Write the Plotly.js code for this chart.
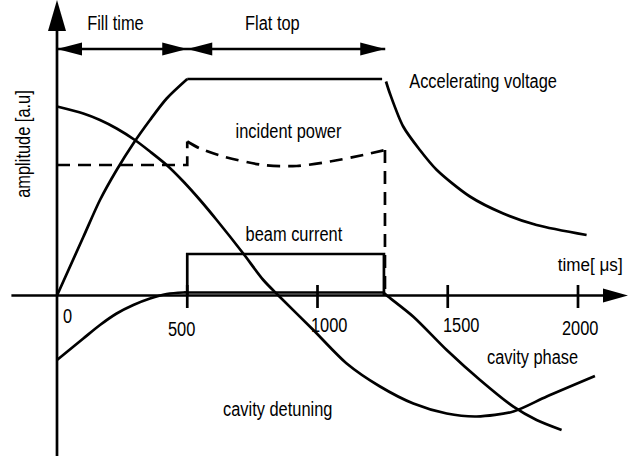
<!DOCTYPE html>
<html><head><meta charset="utf-8">
<script src="https://cdn.plot.ly/plotly-3.0.1.min.js"></script>
<style>html,body{margin:0;padding:0;background:#fff}</style>
</head><body><div id="chart" style="width:628px;height:456px"></div>
<script>
// ---------------- data (time in µs, amplitude in a.u.) ----------------
const phaseBounds = [0, 500, 1260];          // fill start, flat-top start, flat-top end

const accRiseT  = [0, 101, 165, 229, 293, 357, 421, 500];
const accRiseY  = [0, 0.585, 0.955, 1.255, 1.52, 1.755, 1.97, 2.165];
const accFlatT  = [500, 1248];
const accFlatY  = [2.165, 2.165];
const accDecayT = [1263, 1278, 1329, 1393, 1458, 1585, 1713, 1841, 2033];
const accDecayY = [2.14, 2.02, 1.69, 1.455, 1.255, 0.99, 0.82, 0.705, 0.605];

const incFillT  = [0, 500, 500];
const incFillY  = [1.305, 1.305, 1.54];
const incFlatT  = [500, 549, 638, 792, 920, 1048, 1176, 1259];
const incFlatY  = [1.54, 1.47, 1.39, 1.305, 1.295, 1.34, 1.405, 1.455];
const incDropT  = [1259, 1259];
const incDropY  = [1.455, 0];

const beamT = [500, 500, 1255, 1255];
const beamY = [0, 0.415, 0.415, 0];

const detT = [0, 101, 165, 229, 299, 357, 421, 485, 549, 613, 715, 792, 850, 984, 1112, 1240, 1368, 1496, 1611, 1752, 1880, 2065];
const detY = [1.89, 1.82, 1.755, 1.67, 1.555, 1.44, 1.305, 1.14, 0.955, 0.755, 0.42, 0.155, 0.0, -0.345, -0.68, -0.91, -1.08, -1.18, -1.21, -1.16, -1.01, -0.805];

const phFillT  = [0, 101, 165, 229, 293, 357, 421, 485, 500];
const phFillY  = [-0.645, -0.43, -0.295, -0.18, -0.095, -0.03, 0.015, 0.03, 0.03];
const phFlatT  = [500, 1255];
const phFlatY  = [0.03, 0.03];
const phDecayT = [1255, 1266, 1368, 1496, 1624, 1752, 1841, 1937];
const phDecayY = [0.025, 0, -0.212, -0.545, -0.845, -1.112, -1.245, -1.345];

const tickVals   = [500, 1000, 1500, 2000];
const tickLabels = ['0', '500', '1000', '1500', '2000'];

const seriesLabels = ['Accelerating voltage', 'incident power', 'beam current', 'cavity phase', 'cavity detuning'];
const phaseLabels  = ['Fill time', 'Flat top'];
const xTitle = 'time[ \u03bcs]';
const yTitle = 'amplitude [a.u]';

// ---------------- layout helpers (positions / styles) ----------------
const FONT = 'Liberation Sans Narrow, Arial Narrow, Liberation Sans, Arial, sans-serif';
const SQUEEZE = 0.82;        // condensed look of the original lettering
const X_TITLE_SQUEEZE = 0.95;
const LW = 2.7;
const xRange = [-57 / 0.2605, (628 - 57) / 0.2605];
const yRange = [-(456 - 295.5) / 100, 295.5 / 100];
const xAxisT = [-175, 2100];
const yAxisY = [yRange[0], 2.7];
const arrowY = 2.465;
const tickHalf = [0.105, -0.125];
const tickLabelPos = [[40, -0.205], [478, -0.335], [1046, -0.295], [1551, -0.295], [2010, -0.325]];
const seriesLabelPos = [[1637, 2.15], [887, 1.645], [910, 0.62], [1825, -0.615], [845, -1.13]];
const phaseLabelPos = [[226, 2.73], [829, 2.73]];
const xTitlePos = [2046, 0.31];
const yTitlePos = [-132, 1.515];

function ln(x, y, extra) {
  return Object.assign({
    x: x, y: y, type: 'scatter', mode: 'lines', hoverinfo: 'skip', showlegend: false,
    line: {color: '#000', width: LW, shape: 'linear'}
  }, extra || {});
}
const spl = {color: '#000', width: LW, shape: 'spline', smoothing: 0.8};
const dsh = {color: '#000', width: LW, dash: '13px,8px'};

// tick marks
const tkX = [], tkY = [];
tickVals.forEach(v => { tkX.push(v, v, null); tkY.push(tickHalf[0], tickHalf[1], null); });

const traces = [
  ln(xAxisT, [0, 0]),
  ln([0, 0], yAxisY),
  ln(tkX, tkY),
  ln([phaseBounds[0], phaseBounds[2]], [arrowY, arrowY]),
  ln(accRiseT, accRiseY, {line: spl}),
  ln(accFlatT, accFlatY),
  ln(accDecayT, accDecayY, {line: spl}),
  ln(incFillT, incFillY, {line: dsh}),
  ln(incFlatT, incFlatY, {line: Object.assign({}, dsh, {shape: 'spline', smoothing: 0.8})}),
  ln(incDropT, incDropY, {line: dsh}),
  ln(beamT, beamY),
  ln(detT, detY, {line: spl}),
  ln(phFillT, phFillY, {line: spl}),
  ln(phFlatT, phFlatY),
  ln(phDecayT, phDecayY, {line: spl})
];

function head(xa, ya, path) {
  return {type: 'path', xref: 'x', yref: 'y', xsizemode: 'pixel', ysizemode: 'pixel',
          xanchor: xa, yanchor: ya, path: path, fillcolor: '#000', line: {width: 0}};
}
const L = 'M0,0 L25,6.5 L25,-6.5 Z', R = 'M0,0 L-25,6.5 L-25,-6.5 Z';
const shapes = [
  head(phaseBounds[0], arrowY, L),
  head(phaseBounds[1], arrowY, R),
  head(phaseBounds[1], arrowY, L),
  head(phaseBounds[2], arrowY, R),
  head(xRange[1], 0, 'M0,0 L-25,7 L-25,-7 Z'),
  head(0, yRange[1], 'M0,0 L-9,-31 L9,-31 Z')
];

function txt(s, p, extra) {
  return Object.assign({text: s, x: p[0], y: p[1], xref: 'x', yref: 'y', showarrow: false,
    xanchor: 'center', yanchor: 'middle', font: {family: FONT, size: 20, color: '#000'}}, extra || {});
}
const annotations = [];
tickLabels.forEach((s, i) => annotations.push(txt(s, tickLabelPos[i])));
seriesLabels.forEach((s, i) => annotations.push(txt(s, seriesLabelPos[i])));
phaseLabels.forEach((s, i) => annotations.push(txt(s, phaseLabelPos[i])));
annotations.push(txt(xTitle, xTitlePos, {font: {family: FONT, size: 18, color: '#000'}}));
annotations.push(txt(yTitle, yTitlePos, {textangle: -90}));

const layout = {
  width: 628, height: 456, margin: {l: 0, r: 0, t: 0, b: 0},
  paper_bgcolor: '#fff', plot_bgcolor: '#fff', showlegend: false,
  xaxis: {range: xRange, visible: false, fixedrange: true},
  yaxis: {range: yRange, visible: false, fixedrange: true},
  shapes: shapes, annotations: annotations
};

function squeeze() {
  document.querySelectorAll('#chart .annotation-text').forEach(t => {
    if (t.dataset.sq) return;
    const k = t.textContent === xTitle ? X_TITLE_SQUEEZE : SQUEEZE;
    const w = t.getComputedTextLength();
    t.setAttribute('textLength', (w * k).toFixed(1));
    t.setAttribute('lengthAdjust', 'spacingAndGlyphs');
    t.dataset.sq = '1';
    const g = t.parentNode;
    g.querySelectorAll('rect').forEach(r => {
      const rw = parseFloat(r.getAttribute('width'));
      const rx = parseFloat(r.getAttribute('x') || 0);
      if (!isFinite(rw)) return;
      const nw = rw - w * (1 - k);
      r.setAttribute('x', (rx + (rw - nw) / 2).toFixed(1));
      r.setAttribute('width', nw.toFixed(1));
    });
  });
}
Plotly.newPlot('chart', traces, layout, {displayModeBar: false, staticPlot: true}).then(squeeze);
</script></body></html>
